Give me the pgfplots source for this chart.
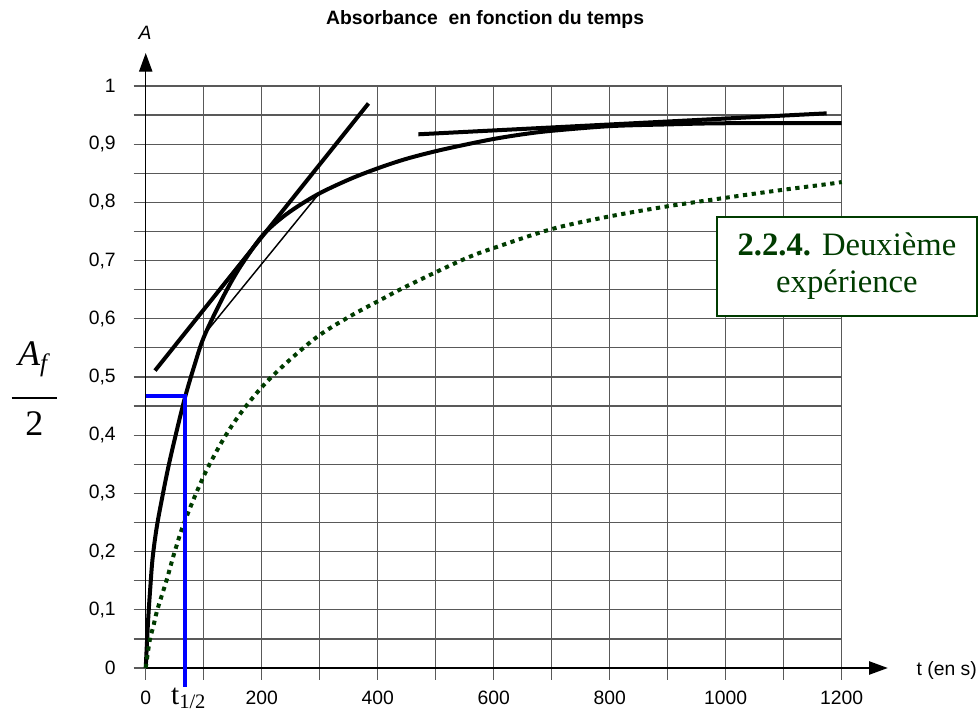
\documentclass[border=0pt]{standalone}
\usepackage{pgfplots}
\pgfplotsset{compat=1.18}
\usepackage{fontspec}
\setmainfont{Liberation Sans}
\newfontfamily\tms{Liberation Serif}
\usetikzlibrary{arrows.meta}
\definecolor{vert}{RGB}{0,60,0}
\definecolor{bleu}{RGB}{0,0,255}

\begin{document}
\begin{tikzpicture}
\useasboundingbox (-109.3pt,-34.5pt) rectangle (624.2pt,501pt);
\begin{axis}[
    scale only axis,
    width=522pt, height=436.5pt,
    xmin=0, xmax=1200, ymin=0, ymax=1,
    axis lines=left,
    axis line style={line width=1pt, black},
    x axis line style={-{Triangle[length=14pt,width=10pt]}, shorten >=-34.5pt},
    y axis line style={-{Triangle[length=14pt,width=10pt]}, shorten >=-24.7pt},
    xtick={0,200,400,600,800,1000,1200},
    xticklabels={0,200,400,600,800,1000,1200},
    minor xtick={100,300,500,700,900,1100},
    ytick={0,0.1,0.2,0.3,0.4,0.5,0.6,0.7,0.8,0.9,1},
    yticklabels={0,{0,1},{0,2},{0,3},{0,4},{0,5},{0,6},{0,7},{0,8},{0,9},1},
    minor ytick={0.05,0.15,0.25,0.35,0.45,0.55,0.65,0.75,0.85,0.95},
    grid=both,
    grid style={black!65, line width=0.9pt},
    minor grid style={black!65, line width=0.9pt},
    tick align=outside,
    major tick length=9pt, minor tick length=9pt,
    tick style={black!65, line width=0.9pt},
    ticklabel style={font=\fontsize{14.5}{17}\selectfont},
    xticklabel style={yshift=-5pt},
    yticklabel style={xshift=-10pt},
    clip=false,
]

% courbe de la premiere experience
\addplot[black, line width=3pt, smooth, tension=0.55] coordinates {
    (0,0) (4,0.08) (8,0.14) (12,0.19) (19,0.242) (29,0.296) (40,0.35)
    (54,0.41) (68,0.466) (84,0.52) (100,0.568) (128,0.627)
    (150,0.668) (170,0.70) (203,0.745) (243,0.78) (295,0.813)
    (352,0.84) (404,0.86) (450,0.875) (500,0.888) (550,0.899) (600,0.909)
    (650,0.917) (700,0.923) (800,0.931) (900,0.934) (1000,0.936) (1200,0.936)
};

% deuxieme experience
\addplot[vert, line width=3pt, dash pattern=on 3.2pt off 3.4pt, smooth, tension=0.55] coordinates {
    (0,0) (7,0.048) (13,0.071) (20,0.1) (36,0.151) (50,0.2) (68,0.254)
    (105,0.34) (151,0.42) (209,0.492) (289,0.564) (350,0.603) (404,0.632)
    (450,0.656) (550,0.703) (610,0.725) (703,0.755) (800,0.776) (898,0.793)
    (1000,0.808) (1094,0.821) (1180,0.832) (1200,0.835)
};

% tangentes
\addplot[black, line width=3pt] coordinates {(16,0.511) (384,0.970)};
\addplot[black, line width=1.1pt] coordinates {(100,0.572) (297,0.813)};
\addplot[black, line width=3pt] coordinates {(470,0.917) (1174,0.953)};

% demi-reaction
\addplot[bleu, line width=3pt] coordinates {(0,0.468) (68,0.468) (68,-0.033)};

\node[font=\bfseries\fontsize{14.5}{17}\selectfont] at (axis cs:585,1.115) {Absorbance\ \ en fonction du temps};
\node[font=\itshape\fontsize{14.5}{17}\selectfont] at (axis cs:-1,1.091) {A};
\node[anchor=west, font=\fontsize{14.5}{17}\selectfont] at (axis cs:1321,-0.005) {t (en s)};
\node[anchor=base, font=\tms\fontsize{22}{26}\selectfont] at (axis cs:74,-0.062) {t\textsubscript{1/2}};
\node[align=center, font=\tms\fontsize{27}{31}\selectfont] at (axis cs:-192,0.48)
    {\textit{A}\textsubscript{\textit{f}}\\[-6pt]\rule{34pt}{0.8pt}\\[-3pt]2};
\node[draw=vert, line width=1.5pt, fill=white, text=vert, minimum width=195pt,
      minimum height=74pt, align=center, font=\tms\fontsize{24.5}{28}\selectfont]
      at (axis cs:1209,0.690) {\textbf{2.2.4.} Deuxième\\expérience};
\end{axis}
\end{tikzpicture}
\end{document}
